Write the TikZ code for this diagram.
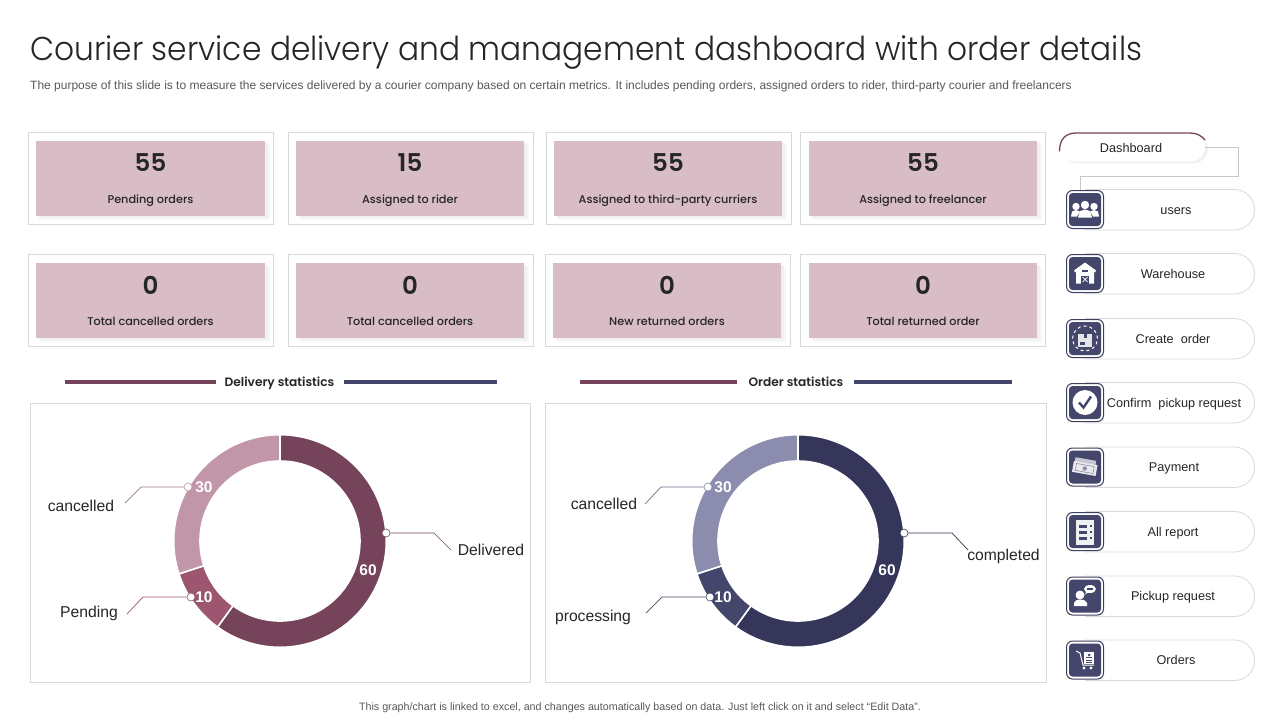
\documentclass[tikz,border=0pt]{standalone}
\usepackage{fontspec}
\usepackage{graphicx}
\setmainfont{Liberation Sans}
\newfontfamily\titlefont{Poppins Light}
\newfontfamily\headfont{Poppins Medium}
\newfontfamily\numfont{Poppins SemiBold}
\usetikzlibrary{calc}
\definecolor{navy}{HTML}{44466B}
\definecolor{maroon}{HTML}{75435A}
\definecolor{rose}{HTML}{9C5670}
\definecolor{mauve}{HTML}{C196A8}
\definecolor{dnavy}{HTML}{35365A}
\definecolor{lilac}{HTML}{8B8CAE}
\definecolor{cardpink}{HTML}{D8BCC6}
\definecolor{frame}{HTML}{D9D9D9}
\definecolor{ink}{HTML}{262626}
\newcommand{\fs}[1]{\fontsize{#1}{#1}\selectfont}
\newcommand{\ringseg}[5]{\filldraw[fill=#5,draw=white,line width=1.6pt] plot[domain=#3:#4,samples=70] ({#1+106.3*cos(\x)},{#2+106.3*sin(\x)}) -- plot[domain=#4:#3,samples=70] ({#1+80*cos(\x)},{#2+80*sin(\x)}) -- cycle;}
\tikzset{
  x=1pt,y=-1pt,
  cardframe/.style={draw=frame,fill=white,line width=.8pt,minimum width=245pt,minimum height=92pt,inner sep=0},
  cardfill/.style={fill=cardpink,minimum width=228.5pt,minimum height=75pt,inner sep=0},
  cardshadow/.style={fill=black!#1,minimum width=228.5pt,minimum height=75pt,inner sep=0},
  cardnum/.style={font=\numfont\fs{24.5},text=ink},
  cardtext/.style={font=\headfont\fs{11.25},text=ink,anchor=base},
  panel/.style={draw=frame,line width=.8pt,inner sep=0},
  headtxt/.style={font=\numfont\fs{12.2},text=ink,anchor=base},
  toprule/.style={line width=3.2pt,maroon},
  navyrule/.style={line width=3.2pt,navy},
  lab/.style={font=\fs{15.7},text=ink},
  val/.style={font=\bfseries\fs{15.5},text=white},
  dot/.style={circle,draw=#1,fill=white,line width=.6pt,minimum size=8pt,inner sep=0},
  leader/.style={draw=#1,line width=.7pt},
  pill/.style={draw=black!15,line width=.8pt,rounded corners=20pt,fill=white},
  iconbox/.style={draw=navy!90!black,fill=white,rounded corners=6pt,line width=1pt,minimum width=37pt,minimum height=38pt,inner sep=0},
  iconfill/.style={fill=navy,rounded corners=3.5pt,minimum width=32pt,minimum height=33pt,inner sep=0},
  menutxt/.style={font=\fs{12.7},text=ink,anchor=base},
  conn/.style={draw=black!22,line width=.8pt},
}
\begin{document}
\begin{tikzpicture}
\useasboundingbox (0,0) rectangle (1280,720);
\fill[white] (0,0) rectangle (1280,720);
% title
\node[anchor=base west,inner sep=0,text=ink] (title) at (30,60) {\scalebox{0.947}[1]{\titlefont\fs{33}Courier service delivery and management dashboard with order details}};
\node[anchor=base west,inner sep=0,text=black!65] (sub) at (30,89) {\fs{12}The purpose of this slide is to measure the services delivered by a courier company based on certain metrics. It includes pending orders, assigned orders to rider, third-party courier and freelancers};
\node[inner sep=0,text=black!65] (foot) at (640,707.5) {\fs{10.7}This graph/chart is linked to excel, and changes automatically based on data. Just left click on it and select “Edit Data”.};
% cards
\foreach \i/\fx/\ix/\n/\t/\cy in {
 a/150.5/150.5/55/Pending orders/178,
 b/410.5/410/15/Assigned to rider/178,
 c/668.5/668/55/Assigned to third-party curriers/178,
 d/922.5/923/55/Assigned to freelancer/178,
 e/150.5/150.5/0/Total cancelled orders/300,
 f/410.5/410/0/Total cancelled orders/300,
 g/667.5/667/0/New returned orders/300,
 h/922.5/923/0/Total returned order/300}{
  \node[cardframe] (frame\i) at (\fx,\cy) {};
  \node[cardshadow=3] (shadow\i) at (\ix+5,\cy+4.5) {};
  \node[cardshadow=6] (shadowb\i) at (\ix+3,\cy+2.5) {};
  \node[cardfill] (fill\i) at (\ix,\cy+.5) {};
  \node[cardnum] (num\i) at (\ix,\cy-15) {\n};
  \node[cardtext] (txt\i) at (\ix,\cy+25) {\t};
}
% section headings
\node[headtxt] (h1) at (279.5,386.5) {Delivery statistics};
\node[headtxt] (h2) at (796,386.5) {Order statistics};
\coordinate (h1l) at (65,382); \coordinate (h1r) at (497,382);
\coordinate (h2l) at (580,382); \coordinate (h2r) at (1012,382);
\draw[toprule] (h1l) -- (216,382);
\draw[navyrule] (344,382) -- (h1r);
\draw[toprule] (h2l) -- (737,382);
\draw[navyrule] (854,382) -- (h2r);
% panels
\node[panel,minimum width=500pt,minimum height=279.5pt] (p1) at (280.5,542.75) {};
\node[panel,minimum width=501pt,minimum height=279.5pt] (p2) at (796,542.75) {};
% donuts
\ringseg{280}{541}{-90}{126}{maroon}
\ringseg{280}{541}{126}{162}{rose}
\ringseg{280}{541}{162}{270}{mauve}
\ringseg{798}{541}{-90}{126}{dnavy}
\ringseg{798}{541}{126}{162}{navy}
\ringseg{798}{541}{162}{270}{lilac}
% leaders
\node[dot=mauve] (d1) at (188,487) {};
\node[dot=rose] (d2) at (191,597) {};
\node[dot=maroon] (d3) at (386,533) {};
\node[dot=lilac] (d4) at (708,487) {};
\node[dot=navy] (d5) at (710,597) {};
\node[dot=dnavy] (d6) at (904,533) {};
\node[lab] (l1) at (81,506) {cancelled};
\node[lab] (l2) at (89,613) {Pending};
\node[lab] (l3) at (491,550) {Delivered};
\node[lab] (l4) at (604,504) {cancelled};
\node[lab] (l5) at (593,617) {processing};
\node[lab] (l6) at (1003.5,556) {completed};
\coordinate (e1a) at (141,487); \coordinate (e1b) at (125,503);
\coordinate (e2a) at (143,597); \coordinate (e2b) at (127,614);
\coordinate (e3a) at (434,533); \coordinate (e3b) at (451,550);
\coordinate (e4a) at (661,487); \coordinate (e4b) at (645,504);
\coordinate (e5a) at (662,597); \coordinate (e5b) at (646,613);
\coordinate (e6a) at (952,533); \coordinate (e6b) at (968,550);
\draw[leader=mauve!80!black] (d1) -- (e1a) -- (e1b);
\draw[leader=rose] (d2) -- (e2a) -- (e2b);
\draw[leader=maroon] (d3) -- (e3a) -- (e3b);
\draw[leader=lilac!80!black] (d4) -- (e4a) -- (e4b);
\draw[leader=navy] (d5) -- (e5a) -- (e5b);
\draw[leader=dnavy] (d6) -- (e6a) -- (e6b);
\node[val] (v1) at (204,487) {30};
\node[val] (v2) at (204,597) {10};
\node[val] (v3) at (368,570) {60};
\node[val] (v4) at (723,487) {30};
\node[val] (v5) at (723,597) {10};
\node[val] (v6) at (887,570) {60};
% menu
\foreach \k/\yy/\tx/\t in {1/209.5/1176/users,2/273.5/1173/Warehouse,3/338.5/1173/Create\ \ order,4/402.5/1174/Confirm\ \ pickup request,5/467/1174/Payment,6/531.5/1173/All report,7/596/1173/Pickup request,8/660/1176/Orders}{
  \draw[pill] (1085,\yy-20) -- (1254.5,\yy-20) -- (1254.5,\yy+20.5) -- (1085,\yy+20.5);
  \node[iconbox] (box\k) at (1085,\yy) {};
  \node[iconfill] (ic\k) at (1085,\yy) {};
  \node[menutxt] (m\k) at (\tx,\yy+4.5) {\t};
}
% dashboard
\fill[black!6,rounded corners=14pt] (1062,135) rectangle (1208,163);
\node[draw=none,fill=white,rounded corners=14.5pt,minimum width=146pt,minimum height=29pt,inner sep=0] (dash) at (1132,147) {};
\draw[maroon,line width=1.3pt,line cap=round] (1059.5,151) .. controls (1059.5,139) and (1066,133) .. (1076,133) -- (1190,133) .. controls (1197,133) and (1202,136) .. (1205,140);
\node[menutxt] (dasht) at (1131,152.5) {Dashboard};
\coordinate (c1) at (1238,147); \coordinate (c2) at (1238,176); \coordinate (c3) at (1080,176);
\draw[conn] (dash.east) -- (c1) -- (c2) -- (c3) -- (c3 |- box1.north);
% icons (white on navy)
\begin{scope}[shift={(1085,209.5)},white]
 \fill (-9,-3) circle[radius=3.7pt]; \fill (9,-3) circle[radius=3.7pt]; \fill (0,-4.5) circle[radius=4.2pt];
 \fill (-14,7) -- (-13,2) -- (-9,.5) -- (-5,2) -- (-8,7) -- cycle;
 \fill (14,7) -- (13,2) -- (9,.5) -- (5,2) -- (8,7) -- cycle;
 \fill (-7,8) -- (-5,1.5) -- (0,0) -- (5,1.5) -- (7,8) -- cycle;
\end{scope}
\begin{scope}[shift={(1085,273.5)}]
 \fill[white] (0,-11) -- (11,-3) -- (10,-1) -- (9,-2) -- (9,10) -- (-9,10) -- (-9,-2) -- (-10,-1) -- (-11,-3) -- cycle;
 \fill[navy] (-3,-4) rectangle (3,-1.5);
 \fill[navy] (-4,2) rectangle (4,10);
 \draw[white,line width=.7pt] (-2.5,3.5) -- (2.5,8.5) (2.5,3.5) -- (-2.5,8.5);
\end{scope}
\begin{scope}[shift={(1085,338.5)}]
 \draw[white,line width=1pt,dashed] (0,0) circle[radius=12.5pt];
 \fill[white!85!navy] (-7,-5) rectangle (7,8);
 \fill[navy] (-1.5,-5) rectangle (1.5,-1);
 \fill[navy] (-5,3.5) rectangle (0,6);
\end{scope}
\begin{scope}[shift={(1085,402.5)}]
 \fill[white] (0,0) circle[radius=12.5pt];
 \draw[navy,line width=2.4pt] (-6,0) -- (-1.5,5) -- (6,-6);
\end{scope}
\begin{scope}[shift={(1085,467)},rotate=-10]
 \fill[white!70!navy] (-11,-8) rectangle (10,3);
 \fill[white!88!navy] (-12,-4) rectangle (12,7);
 \draw[navy!60,line width=.6pt] (-9,-2) rectangle (9,5);
 \fill[navy!60] (0,1.5) circle[radius=2.2pt];
\end{scope}
\begin{scope}[shift={(1085,531.5)}]
 \fill[white!92!navy] (-9,-11.5) rectangle (8.5,13);
 \foreach \q in {-7,-1,5} { \fill[navy] (-6,\q) rectangle (2,\q+3); \fill[navy] (4.5,\q+.8) rectangle (6.5,\q+2.4); }
\end{scope}
\begin{scope}[shift={(1085,596)},white]
 \fill (-5,-1) circle[radius=4.5pt];
 \fill (-11,10) -- (-11,7) .. controls (-10,4) and (-8,3.5) .. (-5,3.5) .. controls (-2,3.5) and (1,4) .. (2,7) -- (2,10) -- cycle;
 \fill (5,-7) ellipse[x radius=6pt,y radius=4pt];
 \fill (1.5,-5) -- (0,-1.5) -- (4,-4) -- cycle;
 \fill[navy] (2,-7.6) rectangle (8,-6.4);
\end{scope}
\begin{scope}[shift={(1085,660)},white]
 \draw[line width=1pt] (-9,-9) -- (-5,-7) -- (-2,5) -- (9,5);
 \fill (-1,-8) rectangle (9,4);
 \fill (-1,8) circle[radius=1.6pt]; \fill (6,8) circle[radius=1.6pt];
 \fill[navy] (4,-5) circle[radius=1.5pt];
 \foreach \q in {-2,.5,3} \fill[navy] (1,\q-.6) rectangle (7,\q+.4);
\end{scope}
\end{tikzpicture}
\end{document}
